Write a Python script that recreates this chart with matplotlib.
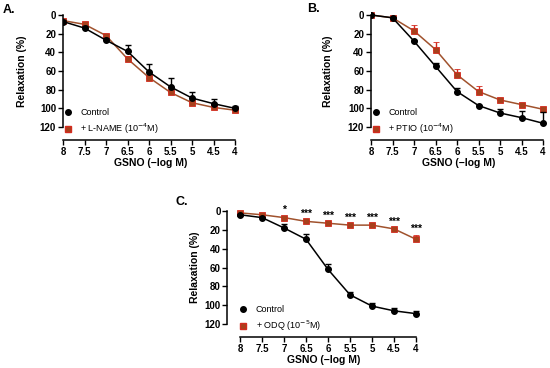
import numpy as np
import matplotlib
matplotlib.use("Agg")
import matplotlib.pyplot as plt

plt.rcParams['font.family'] = ['Liberation Sans', 'DejaVu Sans']

# GSNO concentrations (-log M)
gsno = [8, 7.5, 7, 6.5, 6, 5.5, 5, 4.5, 4]
xticklabels = ['8', '7.5', '7', '6.5', '6', '5.5', '5', '4.5', '4']

# panel A
a_ctrl = [7, 14, 27, 39, 61, 77, 89, 95, 100]
a_ctrl_err = [2, 2, 2, 7, 8, 10, 7, 5, 2]
a_lname = [6, 10, 22, 47, 67, 83, 94, 99, 102]
a_lname_err = [2, 2, 2, 3, 3, 2, 2, 2, 2]

# panel B
b_ctrl = [0, 3, 28, 55, 82, 97, 105, 110, 116]
b_ctrl_err = [1, 1, 1, 4, 4, 1, 4, 7, 12]
b_ptio = [0, 3, 17, 37, 64, 82, 91, 96, 101]
b_ptio_err = [1, 1, 6, 8, 6, 6, 2, 1, 2]

# panel C
c_ctrl = [4, 7, 18, 30, 62, 89, 101, 106, 109]
c_ctrl_err = [1, 1, 4, 6, 6, 3, 3, 3, 3]
c_odq = [2, 4, 7, 11, 13, 15, 15, 19, 30]
c_odq_err = [1, 1, 1, 1, 1, 1, 1, 1, 4]
c_stars = ['', '', '*', '***', '***', '***', '***', '***', '***']

BLACK = 'black'
LINE2 = '#a0522d'
FACE2 = '#a8401c'
EDGE2 = '#d42a1e'

W, H = 550, 368
fig = plt.figure(figsize=(5.5, 3.68), dpi=100)


def make_axes(x_y, x8, x4, y0, y120, ybot):
    # place axes using pixel positions from the reference
    upx = (x4 - x8) / 4.0
    vpx = (y120 - y0) / 120.0
    right = x4 + 0.1 * upx
    top = y0 - 5 * vpx
    ax = fig.add_axes([x_y / W, 1 - ybot / H, (right - x_y) / W, (ybot - top) / H])
    ax.set_xlim(8 + (x8 - x_y) / upx, 3.9)
    ax.set_ylim((ybot - y0) / vpx, -5)
    ax.width_px = right - x_y
    return ax


def style(ax, label_off, tick_pad=1.5):
    for s in ['top', 'right']:
        ax.spines[s].set_visible(False)
    ax.spines['left'].set_bounds(0, 120)
    ax.spines['bottom'].set_bounds(8, 4)
    ax.spines['left'].set_linewidth(1.1)
    ax.spines['bottom'].set_linewidth(1.1)
    ax.set_yticks([0, 20, 40, 60, 80, 100, 120])
    ax.set_xticks(gsno)
    ax.set_xticklabels(xticklabels)
    ax.tick_params(labelsize=7, width=1, length=3.5, pad=1.5)
    ax.tick_params(axis='y', pad=tick_pad)
    for t in ax.get_xticklabels() + ax.get_yticklabels():
        t.set_fontweight('bold')
    ax.set_ylabel('Relaxation (%)', fontsize=7.5, fontweight='bold')
    ax.yaxis.set_label_coords(-label_off / ax.width_px, 60,
                              transform=ax.get_yaxis_transform())
    ax.set_xlabel('GSNO (\u2212log M)', fontsize=7.5, fontweight='bold', labelpad=1)


def draw(ax, ctrl, ctrl_err, trt, trt_err):
    z = np.zeros(len(gsno))
    ax.errorbar(gsno, trt, yerr=[trt_err, z], color=LINE2, ecolor=EDGE2, lw=1.1,
                marker='s', ms=4.5, mfc=FACE2, mec=EDGE2, mew=0.6,
                capsize=2.2, elinewidth=1, capthick=1, zorder=2)
    ax.errorbar(gsno, ctrl, yerr=[ctrl_err, z], color=BLACK, lw=1.1,
                marker='o', ms=4, capsize=2.2, elinewidth=1, capthick=1, zorder=3)


def legend(ax, lab2, anchor):
    h1 = plt.Line2D([], [], color=BLACK, marker='o', ms=4, ls='none')
    h2 = plt.Line2D([], [], marker='s', ms=4.5, mfc=FACE2, mec=EDGE2, ls='none')
    ax.legend([h1, h2], ['Control', lab2], loc='lower left', bbox_to_anchor=anchor,
              frameon=False, fontsize=6.5, handlelength=1, handletextpad=0.9,
              labelspacing=0.55, borderaxespad=0, borderpad=0)


# A
axA = make_axes(63, 63, 235, 15, 127, 140)
draw(axA, a_ctrl, a_ctrl_err, a_lname, a_lname_err)
style(axA, 36)
legend(axA, '+ L-NAME (10$^{-4}$M)', (0.0, 0.03))

# B
axB = make_axes(371, 371, 543, 15, 127, 140)
draw(axB, b_ctrl, b_ctrl_err, b_ptio, b_ptio_err)
style(axB, 38)
legend(axB, '+ PTIO (10$^{-4}$M)', (0.0, 0.03))

# C
axC = make_axes(227, 240, 416, 211, 324, 337)
draw(axC, c_ctrl, c_ctrl_err, c_odq, c_odq_err)
style(axC, 27, tick_pad=1.0)
legend(axC, '+ ODQ (10$^{-5}$M)', (0.06, 0.03))
for xv, yv, e, s in zip(gsno, c_odq, c_odq_err, c_stars):
    if s:
        axC.annotate(s, (xv, yv - e), xytext=(0, 1), textcoords='offset points',
                     ha='center', va='bottom', fontsize=7.5, fontweight='bold')

fig.text(3 / W, 1 - 4 / H, 'A.', fontsize=9, fontweight='bold', va='top')
fig.text(307 / W, 1 - 3 / H, 'B.', fontsize=9, fontweight='bold', va='top')
fig.text(176 / W, 1 - 196 / H, 'C.', fontsize=9, fontweight='bold', va='top')

fig.savefig('out.png', dpi=100)
